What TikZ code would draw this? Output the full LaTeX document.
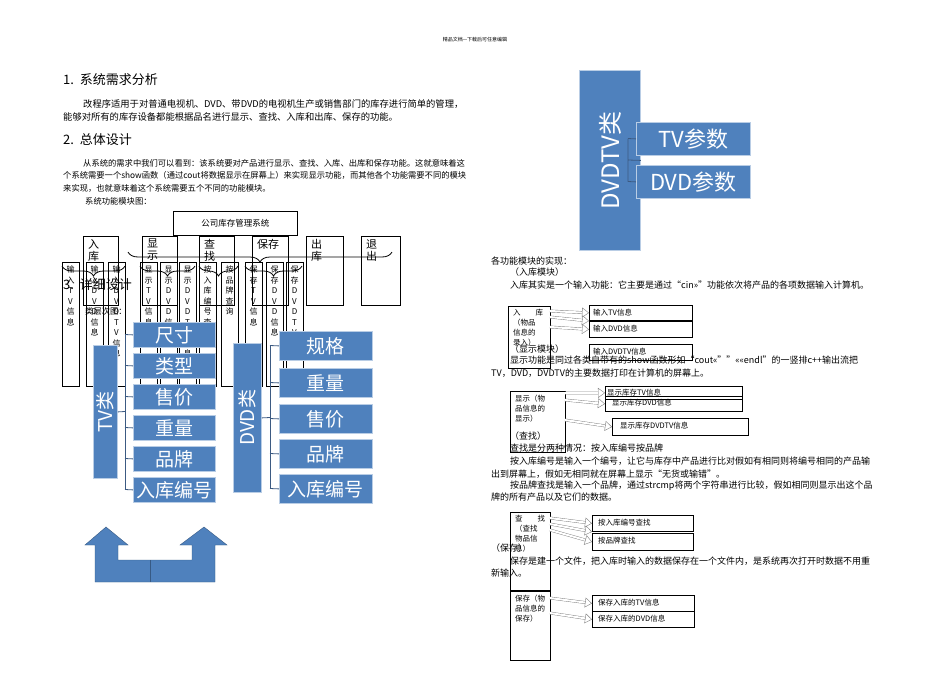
\documentclass[tikz,border=0pt]{standalone}
\usepackage{fontspec}
\setmainfont{Noto Sans CJK SC}
\usetikzlibrary{decorations.pathreplacing,arrows.meta}
\definecolor{blu}{RGB}{79,129,189}
\definecolor{bline}{RGB}{60,90,130}
\tikzset{
 txt/.style={anchor=west,inner sep=0pt,font=\fontsize{9}{11}\selectfont},
 txs/.style={anchor=west,inner sep=0pt,font=\fontsize{8.3}{10}\selectfont},
 head/.style={anchor=west,inner sep=0pt,font=\fontsize{13}{15}\selectfont},
 blk/.style={draw=black,thick},
 bb/.style={fill=blu,draw=blu!40,thick,text=white,inner sep=0pt,font=\fontsize{19}{21}\selectfont},
 bl/.style={draw=bline,thick},
 hol/.style={draw=gray,double=white,double distance=2pt,-{Triangle[open,length=7pt,width=10pt]}},
 br/.style={thick,decorate,decoration={brace,mirror,amplitude=10pt}},
 vt/.style={font=\fontsize{8}{10.5}\selectfont,anchor=north,inner sep=0pt,align=center},
 sb/.style={draw=black,thick},
 st/.style={anchor=north west,inner sep=0pt,font=\fontsize{7.5}{10}\selectfont,align=left},
 tb/.style={draw=black,thick,anchor=north west,inner sep=0pt},
 tl/.style={anchor=west,inner sep=0pt,font=\fontsize{7.5}{9}\selectfont}
}
\begin{document}
\begin{tikzpicture}[x=1pt,y=-1pt]
\useasboundingbox (0,0) rectangle (950,672);
\fill[white] (0,0) rectangle (950,672);
\node[anchor=center,inner sep=0pt,font=\fontsize{5}{6}\selectfont] (hdr) at (475,40) {精品文档---下载后可任意编辑};
% left text
\node[head] (h1) at (63,80) {1.\ \ 系统需求分析};
\node[txt,font=\fontsize{9.3}{11}\selectfont] (p1) at (83,104) {改程序适用于对普通电视机、DVD、带DVD的电视机生产或销售部门的库存进行简单的管理，};
\node[txt,font=\fontsize{9.3}{11}\selectfont] (p2) at (63,117) {能够对所有的库存设备都能根据品名进行显示、查找、入库和出库、保存的功能。};
\node[head] (h2) at (63,140) {2.\ \ 总体设计};
\node[txs] (p3) at (83,163) {从系统的需求中我们可以看到：该系统要对产品进行显示、查找、入库、出库和保存功能。这就意味着这};
\node[txs] (p4) at (63,175) {个系统需要一个show函数（通过cout将数据显示在屏幕上）来实现显示功能，而其他各个功能需要不同的模块};
\node[txs] (p5) at (63,188) {来实现，也就意味着这个系统需要五个不同的功能模块。};
\node[txs] (p6) at (85,201) {系统功能模块图：};
% module chart
\node[blk,minimum width=124pt,minimum height=24pt,anchor=north west,inner sep=0pt,font=\fontsize{8.5}{10}\selectfont] (top) at (173,211) {公司库存管理系统};
\foreach \n/\x/\w/\t in {m1/83/35/入\\库,m2/142/35/显\\示,m3/199/35/查\\找,m4/252/36/保存,m5/306/37/出\\库,m6/361/39/退\\出}{
 \draw[blk] (\x,236) rectangle ++(\w,69);
 \node[anchor=north west,inner sep=0pt,align=left,font=\fontsize{11}{12}\selectfont] (\n) at (\x+5,239) {\t};
}
\foreach \n/\x/\t in {l1/62/输\\入\\T\\V\\信\\息,l2/86/输\\入\\D\\V\\D\\信\\息,l3/108/输\\入\\D\\V\\D\\T\\V\\信\\息,l4/140/显\\示\\T\\V\\信\\息,l5/160/显\\示\\D\\V\\D\\信\\息,l6/179/显\\示\\D\\V\\D\\T\\V\\信\\息,l7/199/按\\入\\库\\编\\号\\查,l8/221/按\\品\\牌\\查\\询,l9/245/保\\存\\T\\V\\信\\息,l10/266/保\\存\\D\\V\\D\\信\\息,l11/286/保\\存\\D\\V\\D\\T\\V}{
 \draw[blk] (\x,262) rectangle ++(17,124);
 \node[vt] (\n) at (\x+8.5,266) {\t};
}
\draw[br] (128,252) -- (392,252);
\draw[br] (62,266) -- (125,266);
\draw[br] (140,266) -- (195,266);
\draw[br] (199,266) -- (238,266);
\draw[br] (245,266) -- (302,266);
\node[head] (h3) at (63,285) {3.\ \ 详细设计};
\node[txs] (p7) at (85,311) {类层次图：};
% TV class
\node[bb,minimum width=24pt,minimum height=133pt,anchor=north west] (tv) at (93,345) {};
\node[rotate=90,text=white,font=\fontsize{19}{21}\selectfont] (tvt) at (tv.center) {TV类};
\foreach \n/\y/\t in {a1/322/尺寸,a2/353/类型,a3/384/售价,a4/415/重量,a5/446/品牌,a6/477/入库编号}{
 \node[bb,minimum width=82pt,minimum height=25pt,anchor=north west] (\n) at (133,\y) {\t};
 \draw[bl] (125,\y+12.5) -- (\n.west);
}
\draw[bl] (125,334.5) -- (125,489.5);
\draw[bl] (tv.east) -- (125,411.5);
% DVD class
\node[bb,minimum width=28pt,minimum height=149pt,anchor=north west] (dvd) at (233,343) {};
\node[rotate=90,text=white,font=\fontsize{19}{21}\selectfont] (dvdt) at (dvd.center) {DVD类};
\foreach \n/\y/\t in {b1/331/规格,b2/368/重量,b3/404/售价,b4/439/品牌,b5/474/入库编号}{
 \node[bb,minimum width=93pt,minimum height=29pt,anchor=north west] (\n) at (279,\y) {\t};
 \draw[bl] (270,\y+14.5) -- (\n.west);
}
\draw[bl] (270,345.5) -- (270,488.5);
\draw[bl] (dvd.east) -- (270,417.5);
% DVDTV class
\node[bb,minimum width=61pt,minimum height=180pt,anchor=north west] (dt) at (579,70) {};
\node[rotate=90,text=white,font=\fontsize{24}{26}\selectfont] (dtt) at (dt.center) {DVDTV类};
\node[bb,minimum width=114pt,minimum height=33pt,anchor=north west,font=\fontsize{22}{24}\selectfont] (c1) at (636,122) {TV参数};
\node[bb,minimum width=114pt,minimum height=33pt,anchor=north west,font=\fontsize{22}{24}\selectfont] (c2) at (636,165) {DVD参数};
\draw[bl] (dt.east) -- (628,160) (628,138.5) -- (628,181.5) (628,138.5) -- (c1.west) (628,181.5) -- (c2.west);
% U arrow
\fill[blu,draw=blu!70!black] (95,545) -- (85,545) -- (106,527) -- (128,545) -- (118,545) -- (118,560) -- (192,560) -- (192,545) -- (180,545) -- (204,527) -- (227,545) -- (215,545) -- (215,582) -- (95,582) -- cycle;
\draw[blu!70!black] (150,560) -- (150,582);
% right text
\node[txt] (r1) at (491,261) {各功能模块的实现：};
\node[txt] (r2) at (510,272) {（入库模块）};
\node[txt] (r3) at (510,285) {入库其实是一个输入功能：它主要是通过“cin>>”功能依次将产品的各项数据输入计算机。};
\node[txt] (r4) at (510,349) {（显示模块）};
\node[txt] (r5) at (510,360) {显示功能是同过各类自带有的show函数形如“cout<<\string"\string"<<<<endl”的一竖排c++输出流把};
\node[txt] (r6) at (491,373) {TV，DVD，DVDTV的主要数据打印在计算机的屏幕上。};
\node[txt] (r7) at (510,436) {（查找）};
\node[txt] (r8) at (510,448) {查找是分两种情况：按入库编号按品牌};
\node[txt] (r9) at (510,461) {按入库编号是输入一个编号，让它与库存中产品进行比对假如有相同则将编号相同的产品输};
\node[txt] (r10) at (491,474) {出到屏幕上，假如无相同就在屏幕上显示“无货或输错”。};
\node[txt] (r11) at (510,486) {按品牌查找是输入一个品牌，通过strcmp将两个字符串进行比较，假如相同则显示出这个品};
\node[txt] (r12) at (491,497) {牌的所有产品以及它们的数据。};
\node[txt] (r13) at (491,548) {（保存）};
\node[txt] (r14) at (510,561) {保存是建一个文件，把入库时输入的数据保存在一个文件内，是系统再次打开时数据不用重};
\node[txt] (r15) at (491,573) {新输入。};
% right boxes
\draw[sb] (508,306) rectangle (550,368);
\node[st] (s1) at (513,309) {入\qquad 库\\（物品\\信息的\\录入）};
\node[tb,minimum width=103pt,minimum height=15pt] (t1) at (589,305) {};
\node[tb,minimum width=103pt,minimum height=16pt] (t2) at (589,321) {};
\node[tb,minimum width=103pt,minimum height=16pt] (t3) at (589,344) {};
\node[tl] (t1l) at (593,312.5) {输入TV信息};
\node[tl] (t2l) at (593,329) {输入DVD信息};
\node[tl] (t3l) at (593,352) {输入DVDTV信息};
\draw[hol] (550,311) -- (t1.west);
\draw[hol] (550,327) -- (t2.west);
\draw[hol] (550,317) -- (t2.north west);
\draw[sb] (510,391) rectangle (565,452);
\node[st] (s2) at (515,395) {显示（物\\品信息的\\显示）};
\node[tb,minimum width=137pt,minimum height=13pt] (u1) at (605,386) {};
\node[tb,minimum width=137pt,minimum height=15pt] (u2) at (605,396) {};
\node[tb,minimum width=136pt,minimum height=17pt] (u3) at (612,418) {};
\node[tl] (u1l) at (607,393) {显示库存TV信息};
\node[tl] (u2l) at (612,403) {显示库存DVD信息};
\node[tl] (u3l) at (620,426) {显示库存DVDTV信息};
\draw[hol] (565,393) -- (u1.west);
\draw[hol] (565,400) -- (u2.west);
\draw[hol] (565,420) -- (u3.west);
\draw[sb] (510,512) rectangle (550,590);
\node[st] (s3) at (515,515) {查\qquad 找\\（查找\\物品信\\息）};
\node[tb,minimum width=101pt,minimum height=16pt] (v1) at (592,515) {};
\node[tb,minimum width=101pt,minimum height=17pt] (v2) at (592,533) {};
\node[tl] (v1l) at (598,523) {按入库编号查找};
\node[tl] (v2l) at (598,541) {按品牌查找};
\draw[hol] (550,518) -- (v1.west);
\draw[hol] (550,524) -- (v1.south west);
\draw[hol] (550,530) -- (v2.west);
\draw[sb] (510,591) rectangle (550,660);
\node[st] (s4) at (515,595) {保存（物\\品信息的\\保存）};
\node[tb,minimum width=102pt,minimum height=16pt] (w1) at (592,595) {};
\node[tb,minimum width=102pt,minimum height=16pt] (w2) at (592,611) {};
\node[tl] (w1l) at (598,603) {保存入库的TV信息};
\node[tl] (w2l) at (598,619) {保存入库的DVD信息};
\draw[hol] (550,598) -- (w1.west);
\draw[hol] (550,613) -- (w2.west);
\end{tikzpicture}
\end{document}
